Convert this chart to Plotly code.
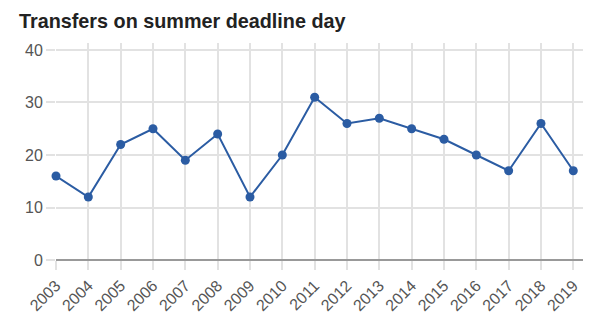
import plotly.graph_objects as go

years = [str(y) for y in range(2003, 2020)]
transfers = [16, 12, 22, 25, 19, 24, 12, 20, 31, 26, 27, 25, 23, 20, 17, 26, 17]
y_ticks = [0, 10, 20, 30, 40]

x_num = list(range(len(years)))

fig = go.Figure()
fig.add_trace(go.Scatter(
    x=x_num, y=transfers, mode="lines+markers",
    line=dict(color="#2b5ca3", width=2),
    marker=dict(color="#2b5ca3", size=9),
    cliponaxis=False,
    hoverinfo="x+y",
))

grid = "#e2e2e2"
fig.update_layout(
    width=607, height=320,
    margin=dict(l=56, r=24, t=43, b=60),
    paper_bgcolor="white", plot_bgcolor="white",
    showlegend=False,
    title=dict(text="<b>Transfers on summer deadline day</b>", x=19/607, xanchor="left",
               y=1 - 21/320, yanchor="middle",
               font=dict(family="Liberation Sans, Arial", size=19.8, color="#222222")),
    xaxis=dict(
        range=[0, len(years) - 1 + 0.3], tickmode="array", tickvals=x_num, ticktext=years,
        tickangle=-45, showgrid=True, gridcolor=grid, gridwidth=2,
        ticks="outside", ticklen=9, tickcolor=grid, tickwidth=2,
        tickfont=dict(family="Liberation Sans, Arial", size=16, color="#555555"),
        zeroline=False, showline=False, automargin=False,
    ),
    yaxis=dict(
        range=[0, 41.33], tickmode="array", tickvals=y_ticks,
        showgrid=True, gridcolor=grid, gridwidth=2,
        ticks="outside", ticklen=9, tickcolor=grid, tickwidth=2,
        tickfont=dict(family="Liberation Sans, Arial", size=16, color="#555555"),
        zeroline=True, zerolinecolor="#999999", zerolinewidth=1.5, showline=False,
        automargin=False,
    ),
)
fig.write_html("out.html")
